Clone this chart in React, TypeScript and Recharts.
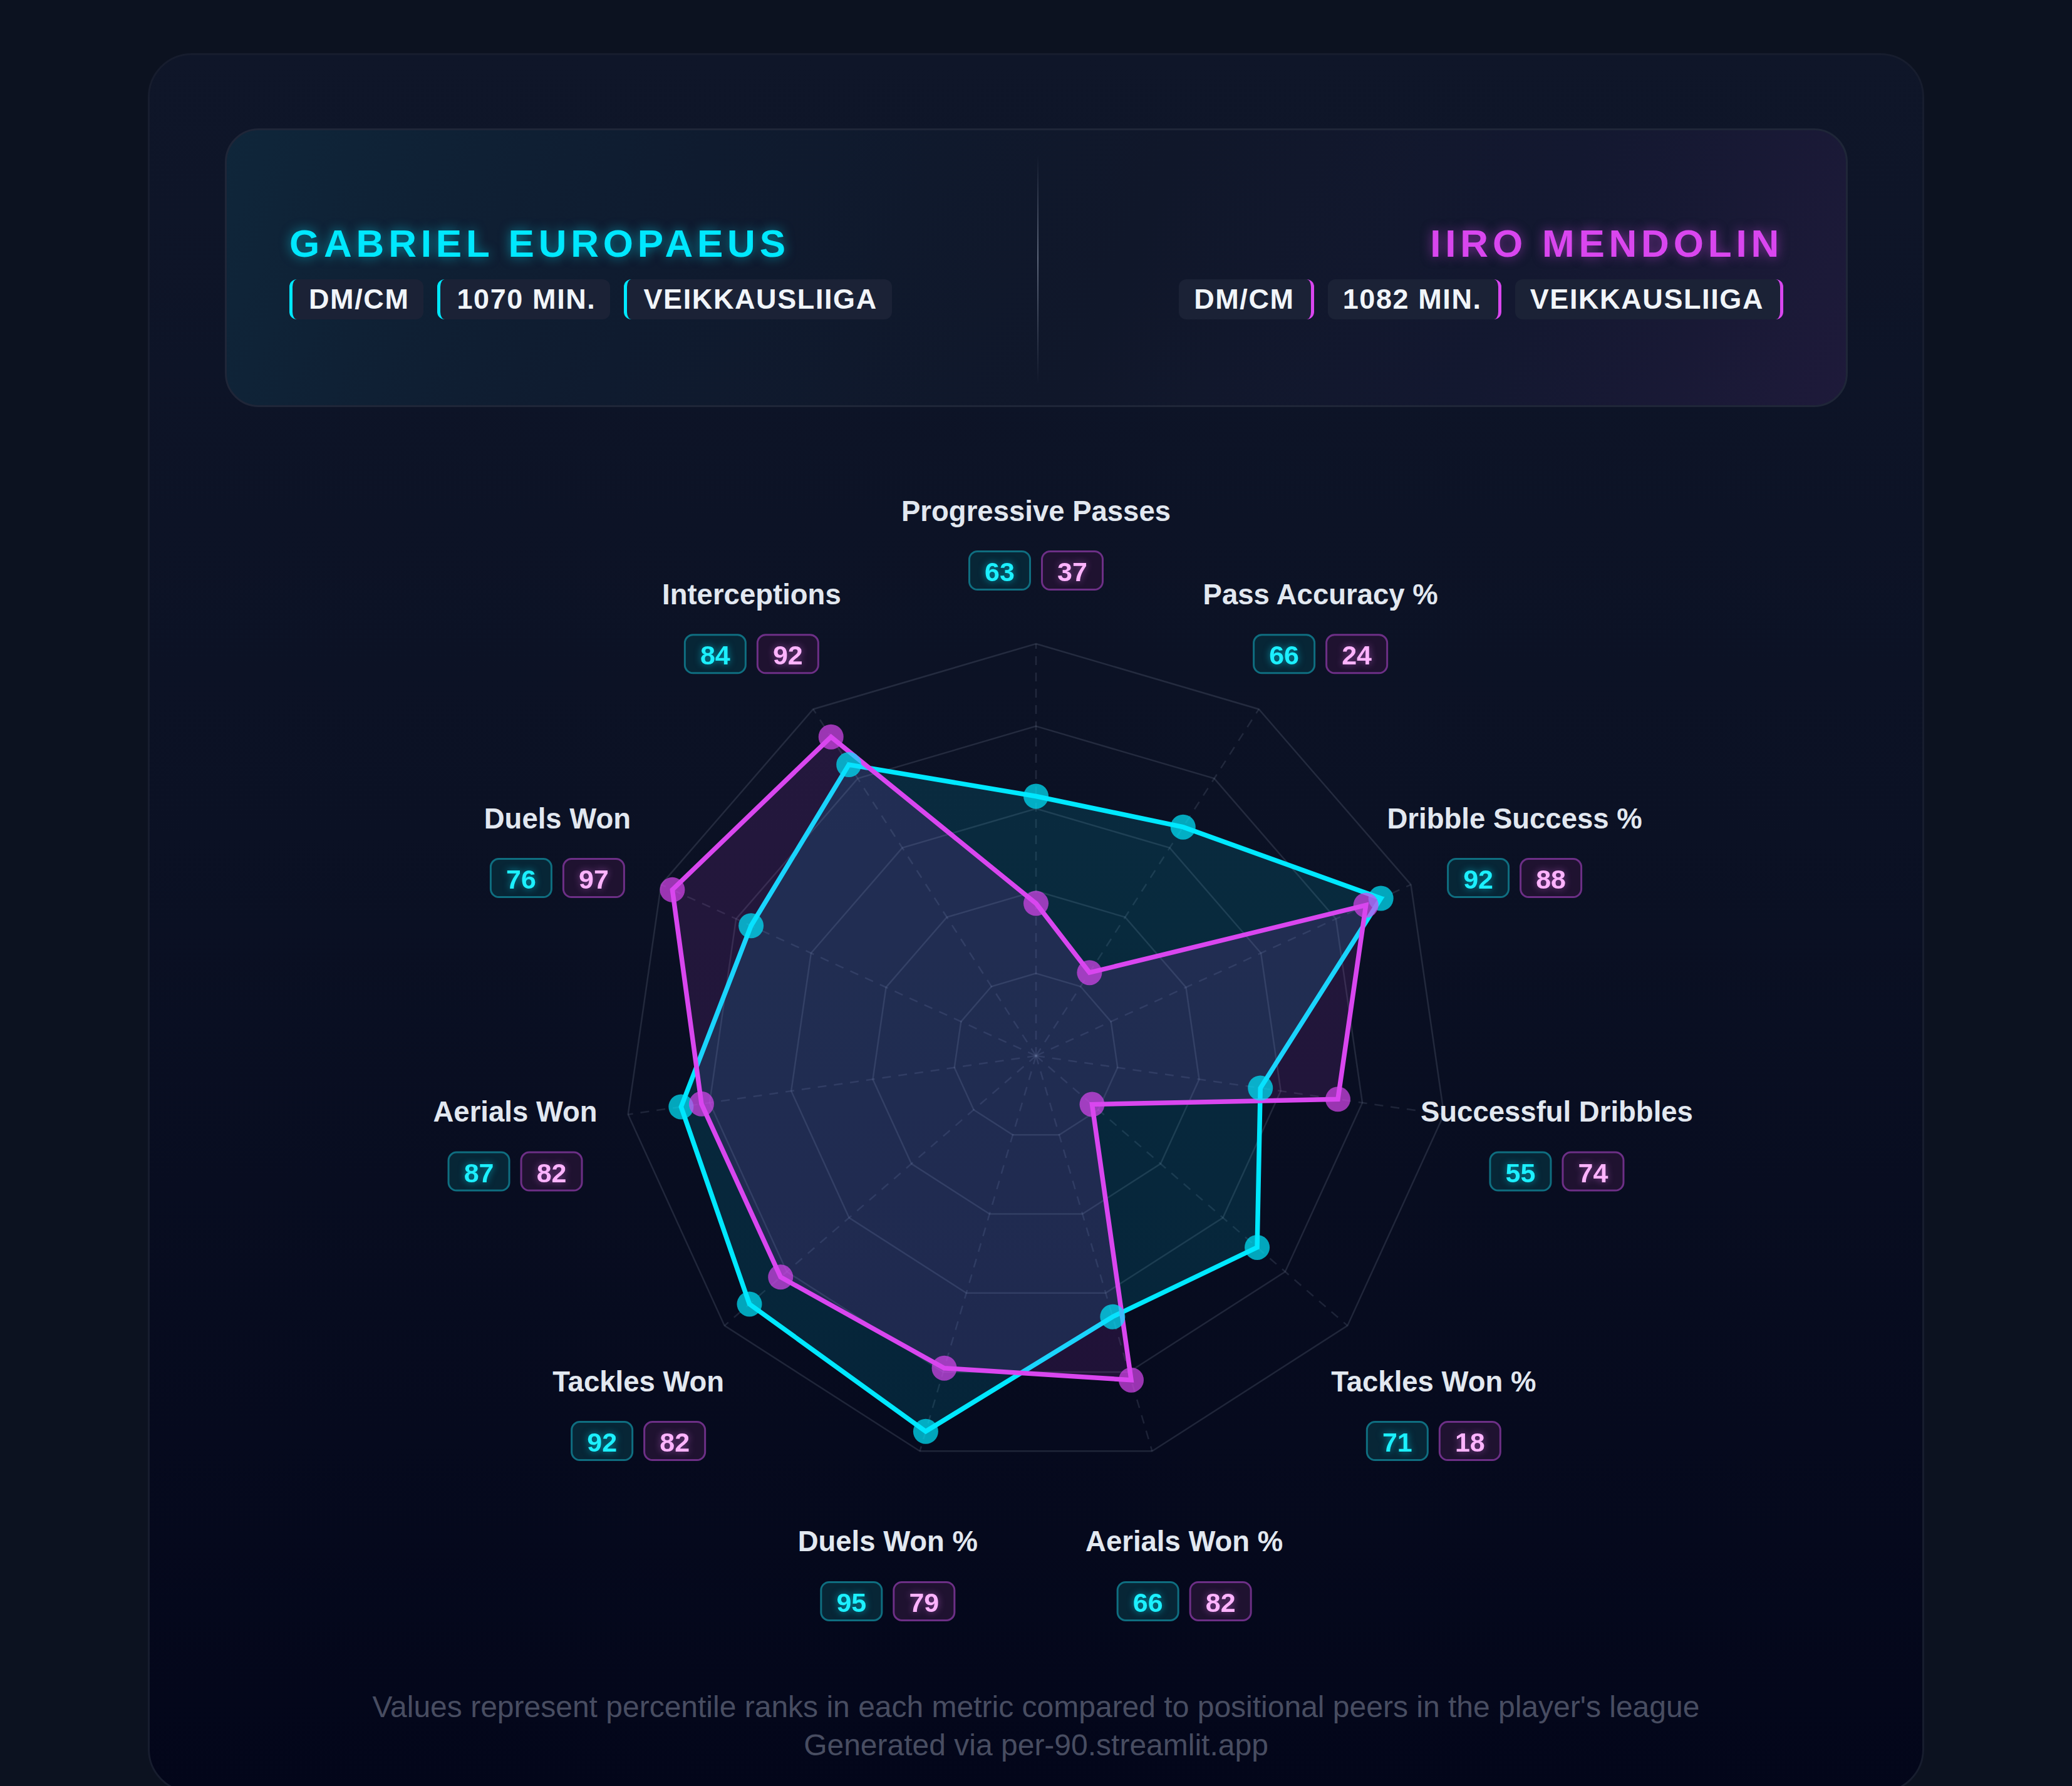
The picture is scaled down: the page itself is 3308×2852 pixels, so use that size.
import { PolarAngleAxis, PolarGrid, PolarRadiusAxis, Radar, RadarChart } from 'recharts'

// percentile ranks, clockwise from the top axis
const metrics = [
  'Progressive Passes',
  'Pass Accuracy %',
  'Dribble Success %',
  'Successful Dribbles',
  'Tackles Won %',
  'Aerials Won %',
  'Duels Won %',
  'Tackles Won',
  'Aerials Won',
  'Duels Won',
  'Interceptions',
]
const gabrielValues = [63, 66, 92, 55, 71, 66, 95, 92, 87, 76, 84]
const iiroValues = [37, 24, 88, 74, 18, 82, 79, 82, 82, 97, 92]

const gabrielTags = ['DM/CM', '1070 MIN.', 'VEIKKAUSLIIGA']
const iiroTags = ['DM/CM', '1082 MIN.', 'VEIKKAUSLIIGA']

const footerLines = [
  "Values represent percentile ranks in each metric compared to positional peers in the player's league",
  'Generated via per-90.streamlit.app',
]

const data = metrics.map((metric, i) => ({ metric, gabriel: gabrielValues[i], iiro: iiroValues[i] }))

const W = 3308
const H = 2852
const CX = 1654
const CY = 1686
const R = 658
const LABEL_R = 840

const CYAN = '#00e8ff'
const MAGENTA = '#d946ef'
const FONT = '"Liberation Sans", Arial, Helvetica, sans-serif'

function ValueBadge({ x, y, value, cyan }: { x: number; y: number; value: number; cyan: boolean }) {
  return (
    <g>
      <rect
        x={x - 48.5}
        y={y - 30.5}
        width={97}
        height={61}
        rx={13}
        fill={cyan ? '#072636' : '#1f1230'}
        stroke={cyan ? '#0f6e80' : '#6d2f86'}
        strokeWidth={3}
      />
      <text
        x={x}
        y={y + 2}
        textAnchor="middle"
        dominantBaseline="central"
        fontSize={43}
        fontWeight={700}
        fill={cyan ? '#1cf0ff' : '#ffb4ff'}
        style={{ filter: cyan ? 'drop-shadow(0 0 6px rgba(0,232,255,0.55))' : 'drop-shadow(0 0 6px rgba(240,120,255,0.45))' }}
      >
        {value}
      </text>
    </g>
  )
}

function MetricTick(props: any) {
  const name = props.payload?.value
  const i = metrics.indexOf(name)
  if (i < 0) return null
  const a = (i * 2 * Math.PI) / metrics.length
  const bx = CX + LABEL_R * Math.sin(a)
  const by = CY - LABEL_R * Math.cos(a) + 17
  return (
    <g fontFamily={FONT}>
      <text x={bx} y={by - 47} textAnchor="middle" dominantBaseline="central" fontSize={45.5} fontWeight={700} fill="#e2e8f0">
        {name}
      </text>
      <ValueBadge x={bx - 58} y={by + 48} value={gabrielValues[i]} cyan />
      <ValueBadge x={bx + 58} y={by + 48} value={iiroValues[i]} cyan={false} />
    </g>
  )
}

function makeDot(color: string) {
  return (p: any) => <circle key={`d-${p.index}`} cx={p.cx} cy={p.cy} r={20} fill={color} fillOpacity={0.7} stroke="none" />
}

function Tag({ label, color, side }: { label: string; color: string; side: 'left' | 'right' }) {
  return (
    <div
      style={{
        height: 64,
        boxSizing: 'border-box',
        display: 'flex',
        alignItems: 'center',
        padding: side === 'left' ? '0 23px 0 26px' : '0 26px 0 24px',
        background: '#1b2236',
        borderRadius: 12,
        [side === 'left' ? 'borderLeft' : 'borderRight']: `5px solid ${color}`,
        color: '#f1f5f9',
        fontSize: 45,
        fontWeight: 700,
        letterSpacing: 1.6,
        whiteSpace: 'nowrap',
      }}
    >
      {label}
    </div>
  )
}

function PlayerBlock({ name, tags, color, side }: { name: string; tags: string[]; color: string; side: 'left' | 'right' }) {
  return (
    <div
      style={{
        position: 'absolute',
        top: 150,
        [side]: 100,
        display: 'flex',
        flexDirection: 'column',
        alignItems: side === 'left' ? 'flex-start' : 'flex-end',
      }}
    >
      <div
        style={{
          fontSize: 62,
          lineHeight: '62px',
          fontWeight: 700,
          letterSpacing: 6.8,
          color,
          textShadow: `0 0 18px ${color}88`,
          whiteSpace: 'nowrap',
        }}
      >
        {name}
      </div>
      <div style={{ display: 'flex', gap: 22, marginTop: 26 }}>
        {tags.map((t) => (
          <Tag key={t} label={t} color={color} side={side} />
        ))}
      </div>
    </div>
  )
}

export default function App() {
  return (
    <div
      style={{
        position: 'absolute',
        left: 0,
        top: 0,
        width: W,
        height: H,
        overflow: 'hidden',
        background: '#0c1220',
        fontFamily: FONT,
      }}
    >
      {/* outer card */}
      <div
        style={{
          position: 'absolute',
          left: 236,
          top: 85,
          width: 2836,
          height: 2778,
          boxSizing: 'border-box',
          borderRadius: 70,
          border: '3px solid #171d2e',
          background: 'linear-gradient(180deg, #0f1629 0%, #0b1124 45%, #03061a 100%)',
        }}
      />

      {/* header */}
      <div
        style={{
          position: 'absolute',
          left: 359,
          top: 205,
          width: 2591,
          height: 445,
          boxSizing: 'border-box',
          borderRadius: 54,
          border: '3px solid #1f2638',
          background: 'linear-gradient(115deg, #0f263a 0%, #0f1b2f 28%, #10172a 55%, #131830 78%, #1e1a3a 100%)',
        }}
      >
        <div
          style={{
            position: 'absolute',
            left: 1294,
            top: 40,
            width: 2,
            height: 365,
            background: 'linear-gradient(180deg, rgba(90,100,120,0) 0%, rgba(110,120,140,0.8) 45%, rgba(90,100,120,0) 100%)',
          }}
        />
        <PlayerBlock name="GABRIEL EUROPAEUS" tags={gabrielTags} color={CYAN} side="left" />
        <PlayerBlock name="IIRO MENDOLIN" tags={iiroTags} color={MAGENTA} side="right" />
      </div>

      {/* radar */}
      <div style={{ position: 'absolute', left: 0, top: 0, width: W, height: H }}>
        <RadarChart width={W} height={H} data={data} cx={CX} cy={CY} outerRadius={R} margin={{ top: 0, right: 0, bottom: 0, left: 0 }}>
          <PolarGrid gridType="polygon" radialLines={false} stroke="#94a3b8" strokeOpacity={0.18} strokeWidth={2.5} />
          <PolarGrid gridType="polygon" polarRadius={[0]} stroke="#94a3b8" strokeOpacity={0.16} strokeWidth={2.5} strokeDasharray="14 12" />
          <PolarRadiusAxis domain={[0, 100]} tickCount={6} tick={false} axisLine={false} angle={90} />
          <PolarAngleAxis dataKey="metric" tick={MetricTick} axisLine={false} tickLine={false} />
          <Radar
            dataKey="gabriel"
            stroke={CYAN}
            strokeWidth={7.5}
            fill={CYAN}
            fillOpacity={0.12}
            dot={makeDot(CYAN)}
            isAnimationActive={false}
          />
          <Radar
            dataKey="iiro"
            stroke={MAGENTA}
            strokeWidth={7.5}
            fill={MAGENTA}
            fillOpacity={0.12}
            dot={makeDot(MAGENTA)}
            isAnimationActive={false}
          />
        </RadarChart>
      </div>

      {/* footer */}
      <div
        style={{
          position: 'absolute',
          left: 0,
          top: 2695,
          width: W,
          textAlign: 'center',
          fontSize: 48,
          lineHeight: '61px',
          color: '#484d61',
        }}
      >
        {footerLines.map((l) => (
          <div key={l}>{l}</div>
        ))}
      </div>
    </div>
  )
}
